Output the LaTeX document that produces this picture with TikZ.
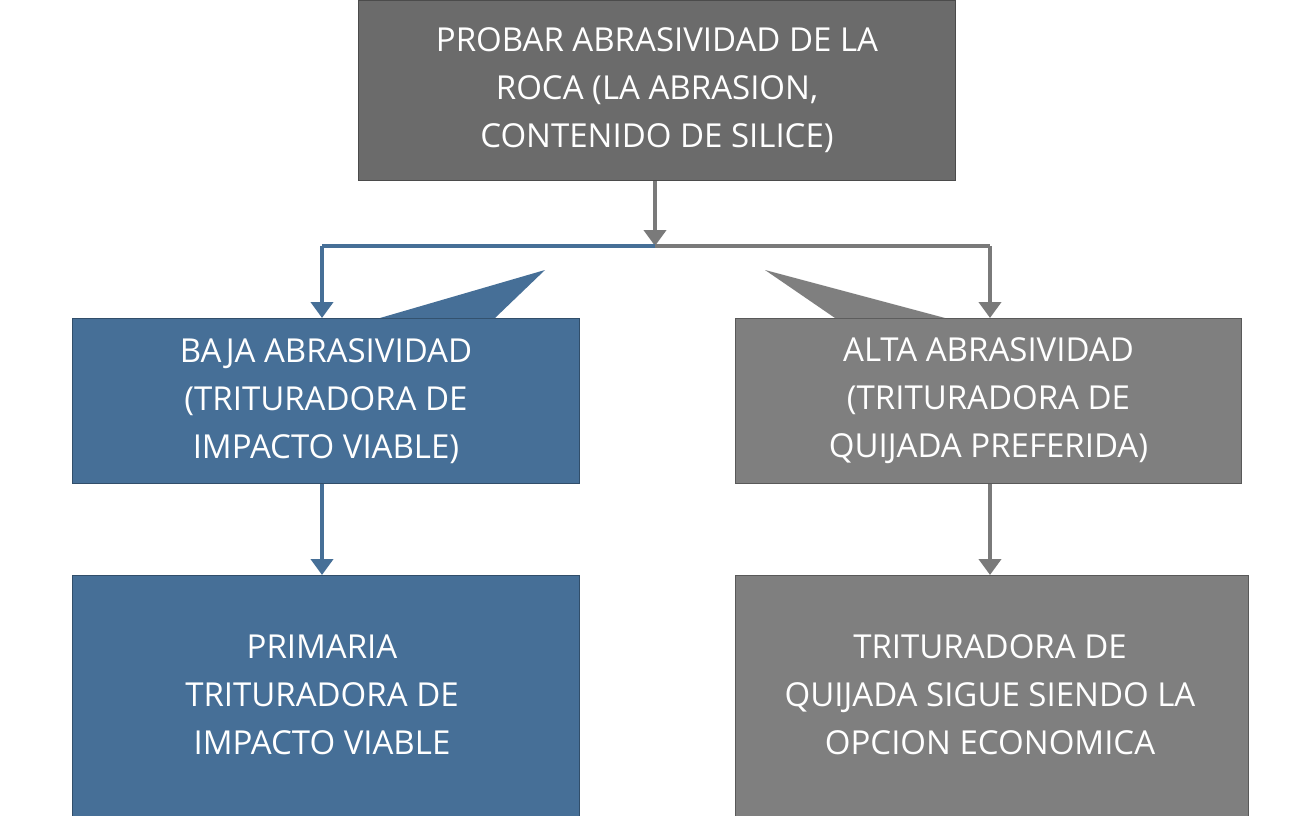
\documentclass[tikz,border=0pt]{standalone}
\usepackage{fontspec}
\setmainfont{Open Sans}
\begin{document}
\begin{tikzpicture}[x=1pt,y=-1pt,
  box/.style={draw=#1!70!black,line width=1pt,fill=#1,text=white,align=center,font=\fontsize{33}{48}\selectfont},
  arr/.style={draw=#1,line width=4pt,-{Triangle[length=16pt,width=22pt]}},
  ln/.style={draw=#1,line width=4pt}]
\usetikzlibrary{arrows.meta}
\definecolor{gtop}{HTML}{6B6B6B}
\definecolor{gmid}{HTML}{7F7F7F}
\definecolor{bl}{HTML}{466F97}
\definecolor{garr}{HTML}{7A7A7A}
\useasboundingbox (0,0) rectangle (1312,816);
\fill[white] (0,0) rectangle (1312,816);
\node[box=gtop,minimum width=597pt,minimum height=180pt,anchor=north west] (top) at (358,0) {PROBAR ABRASIVIDAD DE LA\\ROCA (LA ABRASION,\\CONTENIDO DE SILICE)};
\node[box=bl,minimum width=507pt,minimum height=165pt,anchor=north west] (bl1) at (72,318) {BAJA ABRASIVIDAD\\(TRITURADORA DE\\IMPACTO VIABLE)};
\node[box=gmid,minimum width=506pt,minimum height=165pt,anchor=north west] (gr1) at (735,318) {ALTA ABRASIVIDAD\\(TRITURADORA DE\\QUIJADA PREFERIDA)};
\node[box=bl,minimum width=507pt,minimum height=300pt,anchor=north west,text depth=0pt] (bl2) at (72,575) {};
\node[box=gmid,minimum width=513pt,minimum height=300pt,anchor=north west] (gr2) at (735,575) {};
\node[text=white,align=center,font=\fontsize{33}{48}\selectfont] (t3) at (322,695) {PRIMARIA\\TRITURADORA DE\\IMPACTO VIABLE};
\node[text=white,align=center,font=\fontsize{33}{48}\selectfont] (t4) at (990,695) {TRITURADORA DE\\QUIJADA SIGUE SIENDO LA\\OPCION ECONOMICA};
\fill[bl] (380,318) -- (545,270) -- (495,318) -- cycle;
\fill[gmid] (765,270) -- (835,318) -- (945,318) -- cycle;
\coordinate (j) at (655,246);
\coordinate (jl) at (322,246);
\coordinate (jr) at (990,246);
\draw[arr=garr] (top.south -| j) -- (j);
\draw[ln=bl] (j) -- (jl);
\draw[ln=garr] (j) -- (jr);
\draw[arr=bl] (jl) -- (jl |- bl1.north);
\draw[arr=garr] (jr) -- (jr |- gr1.north);
\draw[arr=bl] (bl1.south -| jl) -- (bl2.north -| jl);
\draw[arr=garr] (gr1.south -| jr) -- (gr2.north -| jr);
\end{tikzpicture}
\end{document}
